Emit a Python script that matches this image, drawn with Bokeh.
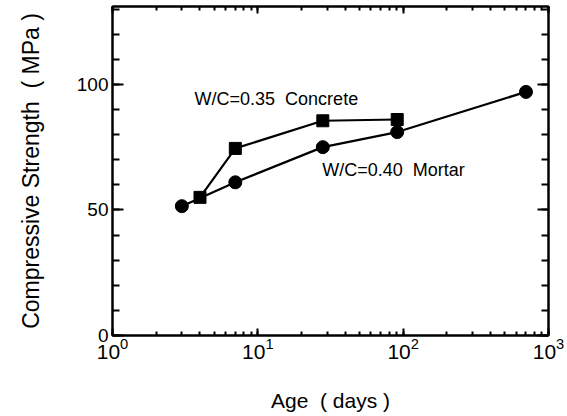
from bokeh.plotting import figure
from bokeh.models import (LogAxis, LinearAxis, SingleIntervalTicker, LogTicker,
                          Range1d, CustomJSTickFormatter, Label)
from bokeh.embed import file_html
from bokeh.resources import INLINE

# Data
mortar_days = [3, 7, 28, 91, 700]
mortar_strength = [51.5, 61, 75, 81, 97]
concrete_days = [4, 7, 28, 91]
concrete_strength = [55, 74.5, 85.5, 86]

FONT = "Liberation Sans"
NB = "\u00a0"

p = figure(width=567, height=416, x_axis_type="log",
           x_range=Range1d(1, 1000), y_range=Range1d(0, 131),
           output_backend="svg", toolbar_location=None,
           min_border_left=112, min_border_right=19,
           min_border_top=6, min_border_bottom=81,
           background_fill_color="white", border_fill_color="white")

p.xgrid.grid_line_color = None
p.ygrid.grid_line_color = None
p.outline_line_color = "black"
p.outline_line_width = 2

# bottom axis
xa = p.xaxis[0]
xa.ticker = LogTicker(num_minor_ticks=10)
xa.axis_line_width = 2
xa.major_tick_in = 7
xa.major_tick_out = 0
xa.minor_tick_in = 4
xa.minor_tick_out = 0
xa.major_tick_line_width = 2
xa.minor_tick_line_width = 2
xa.major_label_text_font = FONT
xa.major_label_text_font_size = "21px"
xa.major_label_text_color = "black"
xa.major_label_standoff = 2
xa.axis_label = "Age" + NB + NB + "(" + NB + "days" + NB + ")"
xa.axis_label_text_font = FONT
xa.axis_label_text_font_size = "21px"
xa.axis_label_text_font_style = "normal"
xa.axis_label_text_color = "black"
xa.axis_label_standoff = 27

# left axis
ya = p.yaxis[0]
ya.ticker = SingleIntervalTicker(interval=50, num_minor_ticks=5)
ya.axis_line_width = 2
ya.major_tick_in = 11
ya.major_tick_out = 0
ya.minor_tick_in = 7
ya.minor_tick_out = 0
ya.major_tick_line_width = 2
ya.minor_tick_line_width = 2
ya.major_label_text_font = FONT
ya.major_label_text_font_size = "19px"
ya.major_label_text_color = "black"
ya.major_label_standoff = 4
ya.axis_label = "Compressive Strength" + NB + NB + "(" + NB + "MPa" + NB + ")"
ya.axis_label_text_font = FONT
ya.axis_label_text_font_size = "23px"
ya.axis_label_text_font_style = "normal"
ya.axis_label_text_color = "black"
ya.axis_label_standoff = 30

blank = CustomJSTickFormatter(code="return ''")

top = LogAxis(ticker=LogTicker(num_minor_ticks=10), formatter=blank,
              axis_line_width=2, major_tick_in=7, major_tick_out=0,
              minor_tick_in=4, minor_tick_out=0, major_tick_line_width=2,
              minor_tick_line_width=2, major_label_standoff=0)
p.add_layout(top, "above")

right = LinearAxis(ticker=SingleIntervalTicker(interval=50, num_minor_ticks=5),
                   formatter=blank, axis_line_width=2, major_tick_in=11,
                   major_tick_out=0, minor_tick_in=7, minor_tick_out=0,
                   major_tick_line_width=2, minor_tick_line_width=2,
                   major_label_standoff=0)
p.add_layout(right, "right")

# series
p.line(concrete_days, concrete_strength, line_color="black", line_width=2.2)
p.scatter(concrete_days, concrete_strength, marker="square", size=12,
          fill_color="black", line_color="black")
p.line(mortar_days, mortar_strength, line_color="black", line_width=2.2)
p.scatter(mortar_days, mortar_strength, marker="circle", size=13,
          fill_color="black", line_color="black")

p.add_layout(Label(x=3.67, y=94, text="W/C=0.35" + NB + NB + "Concrete",
                   text_baseline="middle", text_font=FONT,
                   text_font_size="18px", text_color="black"))
p.add_layout(Label(x=27.7, y=66, text="W/C=0.40" + NB + NB + "Mortar",
                   text_baseline="middle", text_font=FONT,
                   text_font_size="18px", text_color="black"))

open("out.html", "w").write(file_html(p, INLINE))
